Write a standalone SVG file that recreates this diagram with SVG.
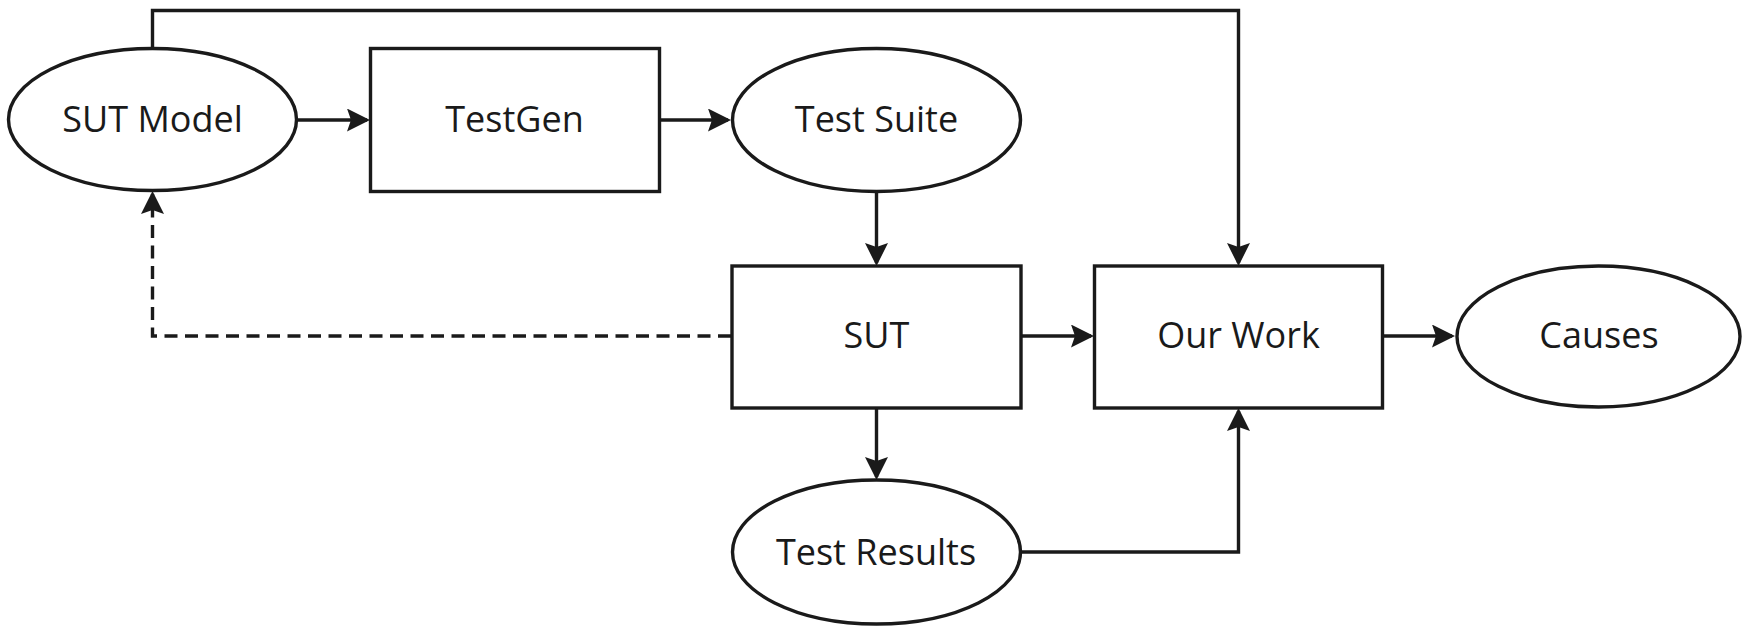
<svg xmlns="http://www.w3.org/2000/svg" width="1742" height="629" viewBox="0 0 1742 629">
<style>
.shape{fill:#fff;stroke:#1a1a1a;stroke-width:3.4}
.lbl{font-family:"Open Sans","Noto Sans",sans-serif;font-size:36px;fill:#1a1a1a;text-anchor:middle}
.conn{fill:none;stroke:#1a1a1a;stroke-width:3.4;marker-end:url(#arr)}
.dash{stroke-dasharray:13 7.5}
</style>
<defs>
<marker id="arr" markerUnits="userSpaceOnUse" markerWidth="26" markerHeight="26" refX="20" refY="11.5" orient="auto">
<path d="M0,0 L23,11.5 L0,23 L4,11.5 Z" fill="#1a1a1a"/>
</marker>
</defs>
<rect width="1742" height="629" fill="#fff"/>
<g id="connectors">
<path class="conn" d="M298 120 H367"/>
<path class="conn" d="M660 120 H728"/>
<path class="conn" d="M876.5 193 V263"/>
<path class="conn" d="M1021 336 H1091"/>
<path class="conn" d="M1383 336 H1452"/>
<path class="conn" d="M876.5 408 V477"/>
<path class="conn" d="M1021 552 H1238.5 V411"/>
<path class="conn" d="M152.5 48 V10.5 H1238.5 V263"/>
<path class="conn dash" d="M731 336 H152.5 V194"/>
</g>
<g id="sut-model">
<ellipse class="shape" cx="152.5" cy="119.5" rx="144" ry="71"/>
<text class="lbl" x="152.5" y="132">SUT Model</text>
</g>
<g id="testgen">
<rect class="shape" x="370.5" y="48.5" width="289" height="143"/>
<text class="lbl" x="514.5" y="132">TestGen</text>
</g>
<g id="test-suite">
<ellipse class="shape" cx="876.5" cy="120" rx="144" ry="71.5"/>
<text class="lbl" x="876.5" y="132">Test Suite</text>
</g>
<g id="sut">
<rect class="shape" x="732" y="266" width="289" height="142"/>
<text class="lbl" x="876.5" y="348">SUT</text>
</g>
<g id="our-work">
<rect class="shape" x="1094.5" y="266" width="288" height="142"/>
<text class="lbl" x="1238.5" y="348">Our Work</text>
</g>
<g id="causes">
<ellipse class="shape" cx="1598.5" cy="336.5" rx="141.5" ry="70.5"/>
<text class="lbl" x="1599" y="348">Causes</text>
</g>
<g id="test-results">
<ellipse class="shape" cx="876.5" cy="552" rx="144" ry="72"/>
<text class="lbl" x="876" y="565">Test Results</text>
</g>
</svg>
